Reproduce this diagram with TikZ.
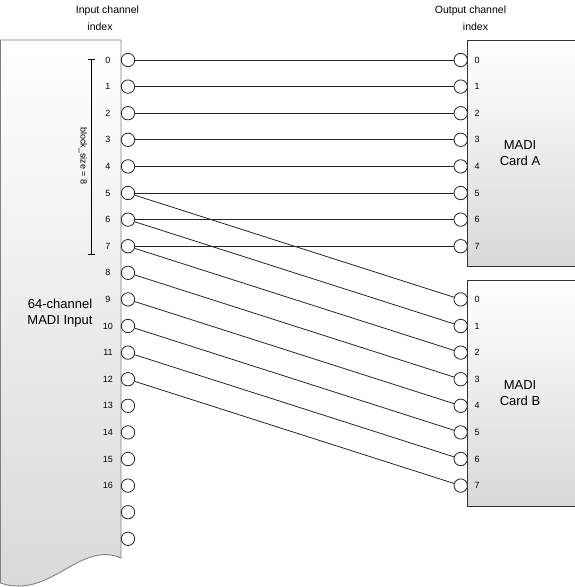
\documentclass[tikz,border=0pt]{standalone}
\usepackage{fontspec}
\setmainfont{Liberation Sans}
\begin{document}
\begin{tikzpicture}[x=1pt,y=-1pt,
  port/.style={circle,draw=black!85,fill=white,line width=0.8pt,minimum size=13.4pt,inner sep=0pt},
  num/.style={font=\fontsize{9}{10}\selectfont,inner sep=0pt},
  hdr/.style={font=\fontsize{10.5}{12}\selectfont,inner sep=0pt},
  big/.style={font=\fontsize{13}{16}\selectfont,align=center,inner sep=0pt},
  wire/.style={draw=black!85,line width=0.8pt},
  card/.style={draw=black!80,line width=0.9pt,top color=white,bottom color=black!15}]
\useasboundingbox (0,0) rectangle (574,587);
% left input box with wavy bottom
\path[draw=black!50,line width=0.9pt,top color=white,bottom color=black!15]
  (0.5,40) -- (121,40) -- (121,558)
  .. controls (80,540) and (50,600) .. (0.5,583) -- cycle;
% right cards
\path[card] (467.5,40.7) rectangle (580,266);
\path[card] (467.5,280.7) rectangle (580,506);
% headers
\node[hdr] (hin1) at (107.5,11) {Input channel};
\node[hdr] (hin2) at (100,27) {index};
\node[hdr] (hout1) at (470.5,11) {Output channel};
\node[hdr] (hout2) at (475.5,27) {index};
% box labels
\node[big] (inlbl) at (60,313) {64-channel\\MADI Input};
\node[big] (albl) at (520,153) {MADI\\Card A};
\node[big] (blbl) at (520,393) {MADI\\Card B};
% block size bracket
\coordinate (bt) at (91,59.5);
\coordinate (bb) at (91,254);
\draw[line width=0.8pt] (bt) -- (bb);
\draw[line width=0.8pt] ([xshift=-3.5pt]bt) -- ([xshift=3.5pt]bt);
\draw[line width=0.8pt] ([xshift=-3.5pt]bb) -- ([xshift=3.5pt]bb);
\node[num,rotate=-90] (bs) at (83,156) {block\_size = 8};
% left ports
\foreach \i in {0,...,18} {
  \node[port] (L\i) at (128,{60+26.6*\i}) {};
}
\foreach \i in {0,...,16} {
  \node[num] (LN\i) at (108,{60+26.6*\i}) {\i};
}
% right ports card A
\foreach \i in {0,...,7} {
  \node[port] (A\i) at (460.7,{60+26.6*\i}) {};
  \node[num] (AN\i) at (477,{60+26.6*\i}) {\i};
}
% right ports card B
\foreach \i in {0,...,7} {
  \node[port] (B\i) at (460.7,{299.4+26.6*\i}) {};
  \node[num] (BN\i) at (477,{299.4+26.6*\i}) {\i};
}
% connections
\foreach \i in {0,...,7} {
  \draw[wire] (L\i) -- (A\i);
}
\foreach \i [evaluate=\i as \j using int(\i-5)] in {5,...,12} {
  \draw[wire] (L\i) -- (B\j);
}
\end{tikzpicture}
\end{document}
